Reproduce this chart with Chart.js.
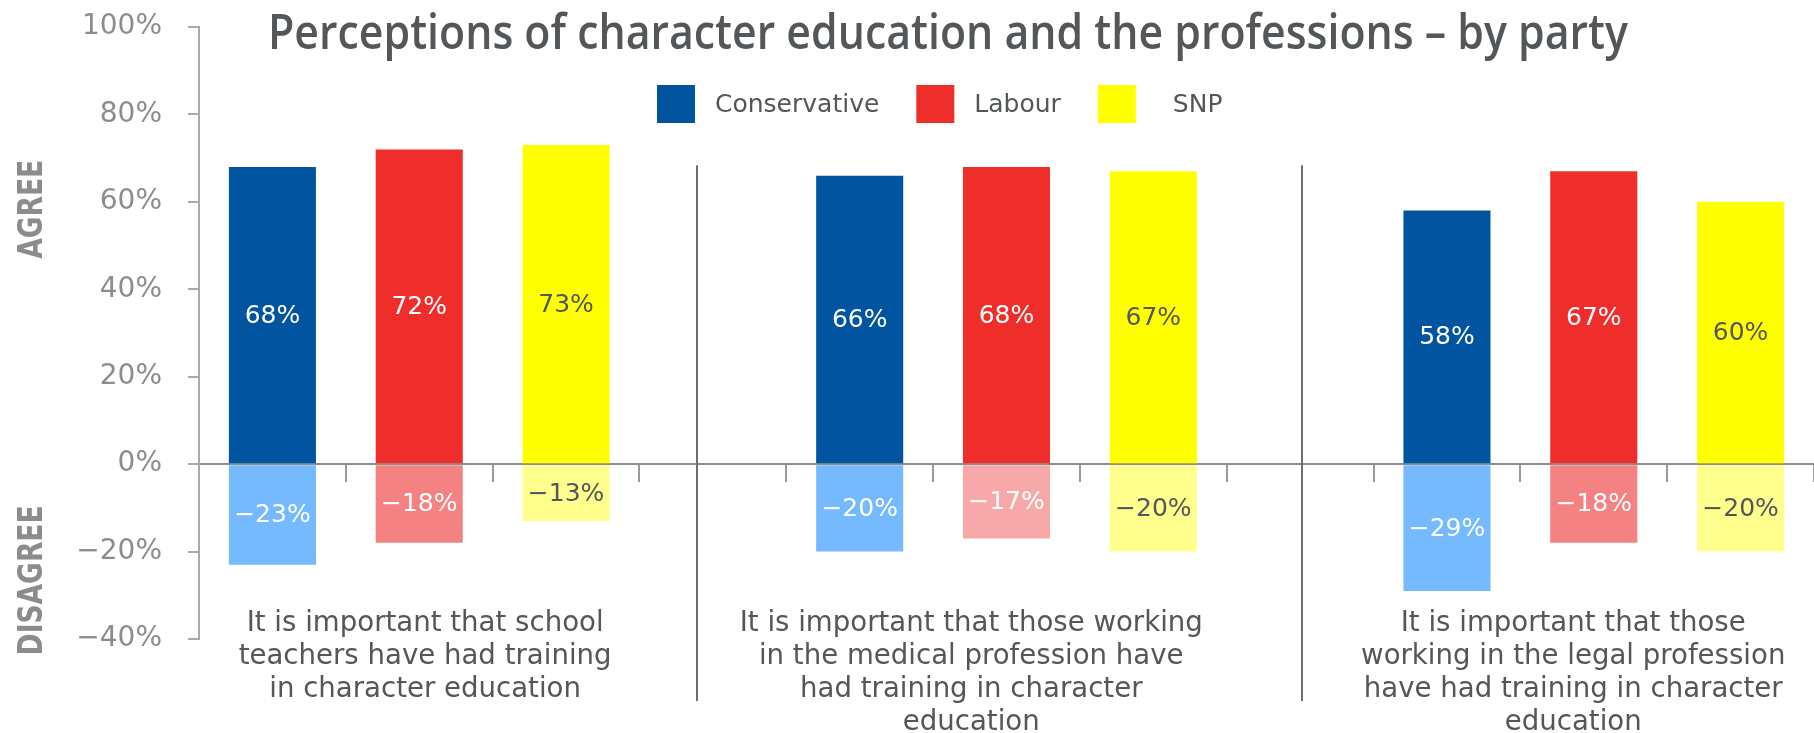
<!DOCTYPE html>
<html>
<head>
<meta charset="utf-8">
<script src="https://cdn.jsdelivr.net/npm/chart.js@4.4.1/dist/chart.umd.min.js"></script>
<style>
  html, body { margin: 0; padding: 0; background: #ffffff; }
  #wrap { width: 1814px; height: 733px; position: relative; }
</style>
</head>
<body>
<div id="wrap"><canvas id="c" width="1814" height="733"></canvas></div>
<script>
// ---------------- DATA ----------------
const chartTitle = "Perceptions of character education and the professions \u2013 by party";
const parties = ["Conservative", "Labour", "SNP"];
const statements = [
  ["It is important that school", "teachers have had training", "in character education"],
  ["It is important that those working", "in the medical profession have", "had training in character", "education"],
  ["It is important that those", "working in the legal profession", "have had training in character", "education"]
];
const agreeConservative = [68, 66, 58];
const agreeLabour       = [72, 68, 67];
const agreeSNP          = [73, 67, 60];
const disagreeConservative = [-23, -20, -29];
const disagreeLabour       = [-18, -17, -18];
const disagreeSNP          = [-13, -20, -20];
const yTickValues = [100, 80, 60, 40, 20, 0, -20, -40];
const sideLabels = ["AGREE", "DISAGREE"];

// ---------------- STYLE ----------------
const agreeColor = ["#0054a0", "#ef2e2c", "#ffff00"];
const disagreeColor = [
  ["#75b9ff", "#75b9ff", "#75b9ff"],
  ["#f58282", "#f7a9a9", "#f58282"],
  ["#ffff8e", "#ffff8e", "#ffff8e"]
];
const labelColorOn = ["#ffffff", "#ffffff", "#53575a"];
const textDark = "#53575a";
const axisGrey = "#8c8c8c";

// ---------------- BUILD SLOTS ----------------
const agreeByParty = [agreeConservative, agreeLabour, agreeSNP];
const disagreeByParty = [disagreeConservative, disagreeLabour, disagreeSNP];
const slotLabels = [], agreeData = [], disagreeData = [];
const agreeBg = [], disagreeBg = [], slotLabelColor = [];
statements.forEach((s, si) => {
  parties.forEach((p, pi) => {
    slotLabels.push(p + " " + (si + 1));
    agreeData.push(agreeByParty[pi][si]);
    disagreeData.push(disagreeByParty[pi][si]);
    agreeBg.push(agreeColor[pi]);
    disagreeBg.push(disagreeColor[pi][si]);
    slotLabelColor.push(labelColorOn[pi]);
  });
  if (si < statements.length - 1) {
    slotLabels.push("");
    agreeData.push(null); disagreeData.push(null);
    agreeBg.push("rgba(0,0,0,0)"); disagreeBg.push("rgba(0,0,0,0)");
    slotLabelColor.push("#000");
  }
});

// layout helpers (category-scale values, not data)
const separatorAt = [2.89, 7.01];
const statementLabelAt = [1.04, 4.76, 8.86];

function fmtPct(v) {
  return (v < 0 ? "\u2212" + Math.abs(v) : String(v)) + "%";
}

const overlay = {
  id: "overlay",
  afterDatasetsDraw(chart) {
    const ctx = chart.ctx;
    ctx.save();
    ctx.font = "25px 'DejaVu Sans'";
    ctx.textAlign = "center";
    ctx.textBaseline = "middle";
    chart.data.datasets.forEach((ds, di) => {
      const meta = chart.getDatasetMeta(di);
      meta.data.forEach((bar, i) => {
        const v = ds.data[i];
        if (v === null || v === undefined) return;
        const p = bar.getProps(["x", "y", "base"], true);
        ctx.fillStyle = slotLabelColor[i];
        ctx.fillText(fmtPct(v), p.x, (p.y + p.base) / 2 + 1);
      });
    });
    ctx.restore();
  },
  afterDraw(chart) {
    const ctx = chart.ctx;
    const xs = chart.scales.x, ys = chart.scales.y;
    const area = chart.chartArea;
    ctx.save();

    // separators
    ctx.strokeStyle = "#6e6e6e";
    ctx.lineWidth = 2;
    separatorAt.forEach(v => {
      const px = Math.round(xs.getPixelForValue(v));
      ctx.beginPath();
      ctx.moveTo(px, ys.getPixelForValue(68.4));
      ctx.lineTo(px, area.bottom + 62);
      ctx.stroke();
    });

    // title (slightly condensed humanist look)
    ctx.fillStyle = textDark;
    ctx.textAlign = "left";
    ctx.textBaseline = "alphabetic";
    const fam = "'Open Sans'";
    const stretch = 1.15;
    ctx.font = "600 100px " + fam;
    const tw = ctx.measureText(chartTitle).width;
    const tsize = 100 * 1360 / tw * stretch;
    ctx.font = "600 " + tsize.toFixed(2) + "px " + fam;
    ctx.save();
    ctx.translate(268, 49);
    ctx.scale(1 / stretch, 1);
    ctx.fillText(chartTitle, 0, 0);
    ctx.restore();

    // legend
    ctx.font = "25px 'DejaVu Sans'";
    ctx.textBaseline = "middle";
    let lx = 657;
    parties.forEach((p, pi) => {
      ctx.fillStyle = agreeColor[pi];
      ctx.fillRect(lx, 85, 38, 38);
      lx += 38 + (pi === parties.length - 1 ? 37 : 20);
      ctx.fillStyle = textDark;
      ctx.fillText(p, lx, 105);
      lx += ctx.measureText(p).width + 37;
    });

    // AGREE / DISAGREE
    ctx.fillStyle = axisGrey;
    ctx.font = "bold 34px 'DejaVu Sans'";
    ctx.textAlign = "center";
    ctx.textBaseline = "alphabetic";
    [[sideLabels[0], 58.3], [sideLabels[1], -26.6]].forEach(([t, v]) => {
      ctx.save();
      ctx.translate(42, ys.getPixelForValue(v));
      ctx.rotate(-Math.PI / 2);
      ctx.scale(0.78, 1);
      ctx.fillText(t, 0, 0);
      ctx.restore();
    });

    // statement labels
    ctx.fillStyle = textDark;
    ctx.font = "27.6px 'DejaVu Sans'";
    ctx.textAlign = "center";
    ctx.textBaseline = "alphabetic";
    statements.forEach((lines, si) => {
      const cx = xs.getPixelForValue(statementLabelAt[si]);
      lines.forEach((ln, li) => {
        ctx.fillText(ln, cx, area.bottom - 8 + li * 33);
      });
    });
    ctx.restore();
  }
};

new Chart(document.getElementById("c"), {
  type: "bar",
  data: {
    labels: slotLabels,
    datasets: [
      { label: "Agree", data: agreeData, backgroundColor: agreeBg, borderWidth: 0, stack: "s" },
      { label: "Disagree", data: disagreeData, backgroundColor: disagreeBg, borderWidth: 0, stack: "s" }
    ]
  },
  options: {
    responsive: false,
    animation: false,
    events: [],
    layout: { padding: { top: 27, bottom: 94, left: 0, right: 0 } },
    datasets: { bar: { categoryPercentage: 1.0, barPercentage: 0.593 } },
    plugins: {
      legend: { display: false },
      title: { display: false },
      tooltip: { enabled: false }
    },
    scales: {
      x: {
        type: "category",
        stacked: true,
        position: { y: 0 },
        offset: true,
        ticks: { display: false },
        grid: {
          display: true, offset: true, drawOnChartArea: false, drawTicks: true,
          tickLength: 17, color: "#9a9a9a", lineWidth: 2
        },
        border: { display: true, color: "#8e8e8e", width: 2 }
      },
      y: {
        stacked: true,
        min: -40, max: 100,
        afterBuildTicks(scale) { scale.ticks = yTickValues.slice().reverse().map(v => ({ value: v })); },
        afterFit(scale) { scale.width = 199; scale.paddingTop = 0; scale.paddingBottom = 0; },
        ticks: {
          padding: 26,
          color: axisGrey,
          font: { family: "'DejaVu Sans'", size: 28 },
          callback: v => fmtPct(v)
        },
        grid: {
          display: true, drawOnChartArea: false, drawTicks: true,
          tickLength: 11, color: "#aaaaaa", lineWidth: 2
        },
        border: { display: true, color: "#aaaaaa", width: 2 }
      }
    }
  },
  plugins: [overlay]
});
</script>
</body>
</html>
